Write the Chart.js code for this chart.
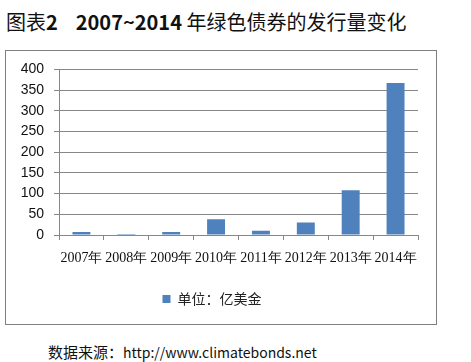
<!DOCTYPE html>
<html><head><meta charset="utf-8">
<script src="https://cdn.jsdelivr.net/npm/chart.js@4"></script>
<style>
body{margin:0;background:#fff;width:471px;height:362px;position:relative;overflow:hidden;font-family:"Noto Sans CJK SC","Liberation Sans",sans-serif;}
#title{position:absolute;left:6px;top:9px;font-size:20px;color:#111;white-space:nowrap;line-height:26px;}
#title b{font-weight:bold;}
#box{position:absolute;left:5px;top:50px;width:430px;height:273px;border:1.5px solid #7f7f7f;}
#foot{position:absolute;left:48px;top:341px;font-size:15px;color:#111;white-space:nowrap;line-height:22px;}
#foot span{font-size:14px;}
</style></head><body>
<div id="title">图表<b>2</b>&nbsp;&nbsp;&nbsp;&nbsp;<b>2007~2014</b> 年绿色债券的发行量变化</div>
<div id="box"><canvas id="c" width="430" height="273"></canvas></div>
<div id="foot">数据来源：<span>http://www.climatebonds.net</span></div>
<script>
const categories = ["2007年","2008年","2009年","2010年","2011年","2012年","2013年","2014年"];
const seriesName = "单位：亿美金";
const values = [7, 2.5, 7.5, 38, 10, 30, 108, 367];
const yTicks = [0,50,100,150,200,250,300,350,400];

const grey = "#878787";
new Chart(document.getElementById("c"), {
  type: "bar",
  data: { labels: categories, datasets: [{ label: seriesName, data: values, backgroundColor: "#4F81BD", borderWidth: 0, barPercentage: 0.4, categoryPercentage: 1 }] },
  options: {
    responsive: false, animation: false,
    layout: { padding: { left: 0, right: 18, top: 18, bottom: 8 } },
    plugins: {
      legend: { position: "bottom", labels: { boxWidth: 8, boxHeight: 8, padding: 10, color: "#222", font: { family: "Noto Sans CJK SC", size: 14 } } },
      tooltip: { enabled: false }
    },
    scales: {
      x: {
        grid: { display: true, drawOnChartArea: false, drawTicks: true, tickLength: 5, offset: true, color: grey },
        border: { display: true, color: grey },
        ticks: { padding: 10, color: "#111", maxRotation: 0, autoSkip: false, font: { family: "Liberation Serif", size: 14 } },
        afterFit: s => { s.height = 47; }
      },
      y: {
        min: 0, max: 400,
        afterBuildTicks: s => { s.ticks = yTicks.map(v => ({ value: v })); },
        grid: { color: grey, tickLength: 5, drawTicks: true },
        border: { display: true, color: grey },
        ticks: { padding: 10, color: "#111", font: { family: "Liberation Sans", size: 14 } },
        afterFit: s => { s.width = 53; }
      }
    }
  }
});
</script>
</body></html>
